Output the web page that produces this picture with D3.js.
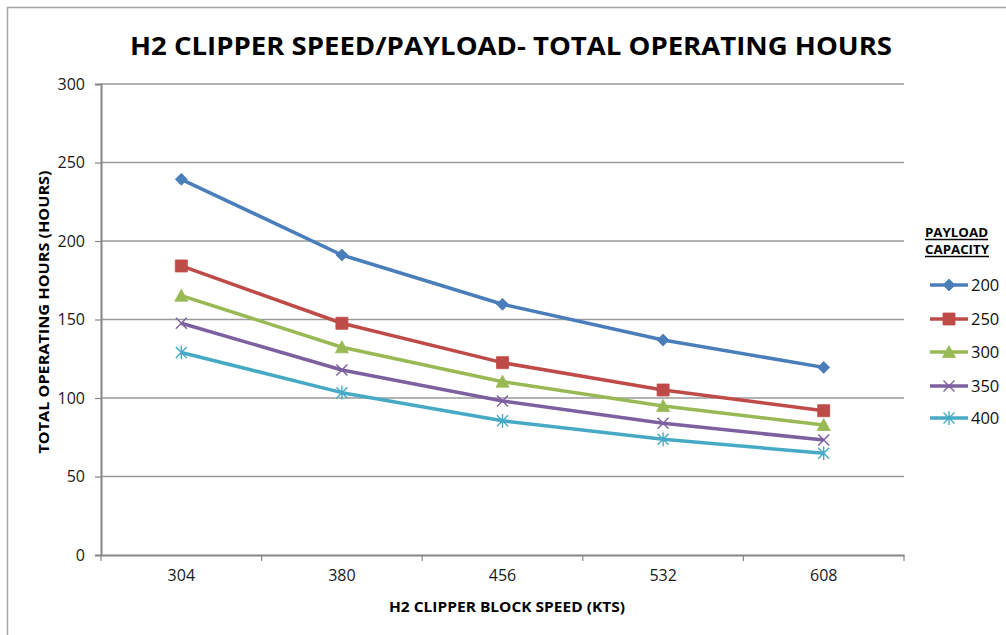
<!DOCTYPE html>
<html><head><meta charset="utf-8">
<script src="https://cdn.jsdelivr.net/npm/d3@7"></script>
<style>body{margin:0;background:#fff}svg{display:block}</style>
</head><body>
<svg id="chart" width="1006" height="635"></svg>
<script>
const categories = ["304", "380", "456", "532", "608"];
const seriesNames = ["200", "250", "300", "350", "400"];
const s200 = [239.3, 191.1, 159.7, 136.9, 119.5];
const s250 = [184.1, 147.6, 122.5, 105.1, 91.9];
const s300 = [165.2, 132.3, 110.4, 94.9, 82.8];
const s350 = [147.6, 117.8, 98.1, 83.9, 73.2];
const s400 = [129.0, 103.4, 85.5, 73.7, 64.8];
const yTicks = [0, 50, 100, 150, 200, 250, 300];
const colors = ["#4a7ebb", "#be4b48", "#98b954", "#7d60a0", "#46aac5"];
const markers = ["diamond", "square", "triangle", "times", "asterisk"];
const title = "H2 CLIPPER SPEED/PAYLOAD- TOTAL OPERATING HOURS";
const xTitle = "H2 CLIPPER BLOCK SPEED  (KTS)";
const yTitle = "TOTAL OPERATING HOURS (HOURS)";
const legendTitle = ["PAYLOAD", "CAPACITY"];

const values = [s200, s250, s300, s350, s400];
const series = seriesNames.map((n, i) => ({name: n, color: colors[i], marker: markers[i],
  points: categories.map((c, j) => ({c, v: values[i][j]}))}));

const svg = d3.select("#chart");
const F = "'Open Sans', 'Liberation Sans', sans-serif";
const L = 101, R = 904, T = 84, B = 555;

// chart border
svg.append("rect").attr("x", 7.5).attr("y", 7.5).attr("width", 1010).attr("height", 640)
  .attr("fill", "none").attr("stroke", "#a6a6a6").attr("stroke-width", 1.5);

const x = d3.scaleBand().domain(categories).range([L, R]).padding(0);
const y = d3.scaleLinear().domain([0, 300]).range([B, T]);

// gridlines
svg.append("g").selectAll("line").data(yTicks.filter(d => d > 0)).join("line")
  .attr("x1", L).attr("x2", R).attr("y1", d => y(d)).attr("y2", d => y(d))
  .attr("stroke", "#9a9a9a").attr("stroke-width", 1.5);

// y axis
const yAxis = svg.append("g").attr("transform", `translate(${L},0)`)
  .call(d3.axisLeft(y).tickValues(yTicks).tickSize(6).tickPadding(10));
yAxis.select(".domain").attr("stroke", "#868686").attr("stroke-width", 2);
yAxis.selectAll(".tick line").attr("stroke", "#868686").attr("stroke-width", 1.2);
yAxis.selectAll("text").attr("font-family", F).attr("font-size", 16).attr("fill", "#1a1a1a");

// x axis
const xAxis = svg.append("g").attr("transform", `translate(0,${B})`)
  .call(d3.axisBottom(x).tickSize(0).tickPadding(15));
xAxis.select(".domain").attr("stroke", "#868686").attr("stroke-width", 2);
xAxis.selectAll("text").attr("font-family", F).attr("font-size", 16).attr("fill", "#1a1a1a");
const bounds = categories.map(c => x(c)).concat([x(categories[categories.length - 1]) + x.bandwidth()]);
xAxis.selectAll(".btick").data(bounds).join("line").attr("class", "btick")
  .attr("x1", d => d).attr("x2", d => d).attr("y1", 0).attr("y2", 6)
  .attr("stroke", "#868686").attr("stroke-width", 1.2);

// symbols
function symPath(type, s) {
  const h = s / 2;
  if (type === "diamond") return `M0,${-h}L${h},0L0,${h}L${-h},0Z`;
  if (type === "square") return `M${-h},${-h}H${h}V${h}H${-h}Z`;
  if (type === "triangle") return `M0,${-h}L${h},${h * 0.85}L${-h},${h * 0.85}Z`;
  if (type === "times") return `M${-h},${-h}L${h},${h}M${h},${-h}L${-h},${h}`;
  return `M${-h},${-h}L${h},${h}M${h},${-h}L${-h},${h}M0,${-h * 1.25}L0,${h * 1.25}`;
}
function drawMarker(g, type, color, cx, cy, scale) {
  const sizes = {diamond: 12, square: 12, triangle: 13, times: 11, asterisk: 11};
  const p = g.append("path").attr("d", symPath(type, sizes[type] * (scale || 1)))
    .attr("transform", `translate(${cx},${cy})`);
  if (type === "times" || type === "asterisk") p.attr("fill", "none").attr("stroke", color).attr("stroke-width", 1.4);
  else p.attr("fill", color).attr("stroke", color).attr("stroke-width", 0.8);
}

const cx = d => x(d.c) + x.bandwidth() / 2;
const line = d3.line().x(cx).y(d => y(d.v));
const plot = svg.append("g");
series.forEach(s => {
  plot.append("path").datum(s.points).attr("d", line).attr("fill", "none")
    .attr("stroke", s.color).attr("stroke-width", 3.5).attr("stroke-linejoin", "round");
});
series.forEach(s => {
  s.points.forEach(p => drawMarker(plot, s.marker, s.color, cx(p), y(p.v)));
});

// titles
svg.append("text").attr("x", 511).attr("y", 55).attr("text-anchor", "middle")
  .attr("font-family", F).attr("font-weight", "bold").attr("font-size", 25.5)
  .attr("textLength", 762).attr("lengthAdjust", "spacingAndGlyphs").text(title);
svg.append("text").attr("x", 507).attr("y", 612).attr("text-anchor", "middle")
  .attr("font-family", F).attr("font-weight", "bold").attr("font-size", 14)
  .attr("textLength", 236).attr("lengthAdjust", "spacingAndGlyphs").text(xTitle);
svg.append("text").attr("transform", "translate(49,312) rotate(-90)").attr("text-anchor", "middle")
  .attr("font-family", F).attr("font-weight", "bold").attr("font-size", 14.5)
  .attr("textLength", 283).attr("lengthAdjust", "spacingAndGlyphs").text(yTitle);

// legend
const lg = svg.append("g");
legendTitle.forEach((t, i) => {
  const by = 237 + i * 17;
  lg.append("text").attr("x", 925).attr("y", by).attr("font-family", F).attr("font-weight", "bold")
    .attr("font-size", 12).attr("textLength", i === 0 ? 63 : 64).attr("lengthAdjust", "spacingAndGlyphs").text(t);
  lg.append("line").attr("x1", 925).attr("x2", i === 0 ? 988 : 989).attr("y1", by + 2.5).attr("y2", by + 2.5)
    .attr("stroke", "#000").attr("stroke-width", 1.3);
});
const legY = [285, 319, 352, 386, 418];
series.forEach((s, i) => {
  lg.append("line").attr("x1", 930).attr("x2", 968).attr("y1", legY[i]).attr("y2", legY[i])
    .attr("stroke", s.color).attr("stroke-width", 3.5);
  drawMarker(lg, s.marker, s.color, 949, legY[i]);
  lg.append("text").attr("x", 971).attr("y", legY[i] + 6).attr("font-family", F)
    .attr("font-size", 16.5).attr("fill", "#111").text(s.name);
});
</script>
</body></html>
